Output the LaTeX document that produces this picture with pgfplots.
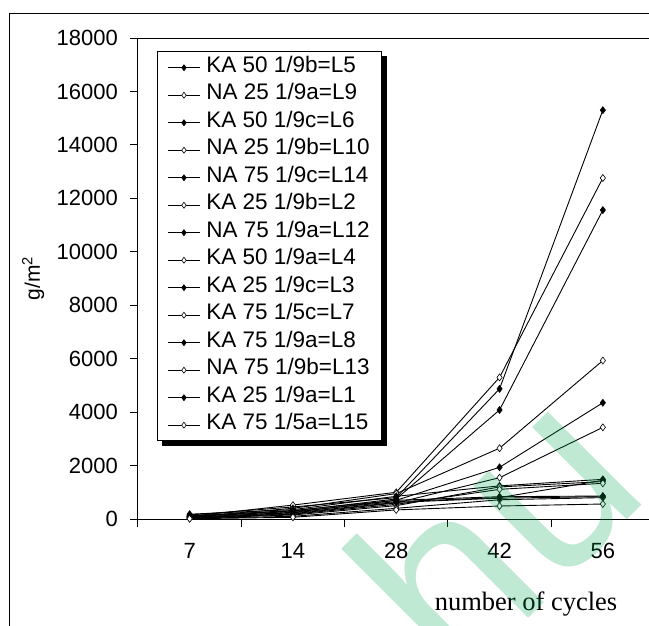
\documentclass[border=0pt]{standalone}
\usepackage{fontspec}
\setmainfont{Liberation Sans}
\newfontfamily\timesfont{Liberation Serif}
\usepackage{pgfplots}
\usepackage{pgfplotstable}
\pgfplotsset{compat=1.18}
\usetikzlibrary{backgrounds}

% values, one column per series
\pgfplotstableread{
x L5 L9 L6 L10 L14 L2 L12 L4 L3 L7 L8 L13 L1 L15
0 150 100 120 80 60 50 180 30 90 40 110 20 70 10
1 450 520 300 400 250 200 350 150 280 180 320 100 230 64
2 800 1000 750 950 700 600 850 500 650 550 700 400 620 340
3 4870 5300 4080 2650 1935 1546 1240 1200 800 1110 835 720 780 486
4 15300 12760 11560 5930 4350 3430 1485 1400 1450 1336 860 800 835 561
}\datatable

\pgfplotsset{
  filled/.style={black, line width=0.9pt, mark=diamond*, mark size=3.5pt,
    mark options={solid, fill=black, line width=0.6pt}},
  open/.style={black, line width=0.9pt, mark=diamond*, mark size=3.5pt,
    mark options={solid, fill=white, line width=0.6pt}},
}

\begin{document}
\begin{tikzpicture}
\useasboundingbox (0,0) rectangle (649pt,625pt);
\clip (0,0) rectangle (649pt,625pt);
\draw[line width=1pt] (9.5pt,-20pt) rectangle (700pt,611.5pt);

\begin{axis}[
  at={(138pt,106pt)}, anchor=south west,
  scale only axis, width=516.5pt, height=481pt,
  xmin=-0.5, xmax=4.5, ymin=0, ymax=18000,
  xtick={0,1,2,3,4}, xticklabels={7,14,28,42,56},
  minor xtick={-0.5,0.5,1.5,2.5,3.5,4.5},
  ytick={0,2000,...,18000},
  scaled y ticks=false,
  /pgf/number format/1000 sep={},
  /pgf/number format/assume math mode=true,
  tick align=outside, tick pos=left,
  major tick length=8pt, minor tick length=8pt,
  major x tick style={draw=none},
  tick style={black, line width=1pt},
  axis line style={line width=1pt},
  ticklabel style={font=\fontsize{22}{26}\selectfont},
  yticklabel style={inner sep=0pt, xshift=-12pt},
  xticklabel style={inner sep=0pt, yshift=-16pt},
  ylabel={g/m\textsuperscript{2}},
  every axis y label/.style={at={(axis description cs:-0.203,0.5)}, rotate=90,
    anchor=center, font=\fontsize{21}{24}\selectfont},
  xlabel={number of cycles},
  every axis x label/.style={at={(axis description cs:0.7512,-0.1906)},
    anchor=base, font=\timesfont\fontsize{26.5}{30}\selectfont},
  legend cell align=left,
  legend image code/.code={\draw[mark repeat=2, mark phase=2, mark size=3pt, #1]
    plot coordinates {(0pt,0pt) (16pt,0pt) (32pt,0pt)};},
  legend style={at={(axis description cs:0.0368,0.972)}, anchor=north west,
    name=leg, draw=black, line width=1pt, fill=white,
    font=\fontsize{22.5}{26}\selectfont,
    inner xsep=10pt, inner ysep=2pt, row sep=0pt, column sep=4pt,
    nodes={inner sep=2pt, text height=16.5pt, text depth=7pt}},
]
\addplot[filled] table[x=x, y=L5] {\datatable};
\addlegendentry{KA 50 1/9b=L5}
\addplot[open] table[x=x, y=L9] {\datatable};
\addlegendentry{NA 25 1/9a=L9}
\addplot[filled] table[x=x, y=L6] {\datatable};
\addlegendentry{KA 50 1/9c=L6}
\addplot[open] table[x=x, y=L10] {\datatable};
\addlegendentry{NA 25 1/9b=L10}
\addplot[filled] table[x=x, y=L14] {\datatable};
\addlegendentry{NA 75 1/9c=L14}
\addplot[open] table[x=x, y=L2] {\datatable};
\addlegendentry{KA 25 1/9b=L2}
\addplot[filled] table[x=x, y=L12] {\datatable};
\addlegendentry{NA 75 1/9a=L12}
\addplot[open] table[x=x, y=L4] {\datatable};
\addlegendentry{KA 50 1/9a=L4}
\addplot[filled] table[x=x, y=L3] {\datatable};
\addlegendentry{KA 25 1/9c=L3}
\addplot[open] table[x=x, y=L7] {\datatable};
\addlegendentry{KA 75 1/5c=L7}
\addplot[filled] table[x=x, y=L8] {\datatable};
\addlegendentry{KA 75 1/9a=L8}
\addplot[open] table[x=x, y=L13] {\datatable};
\addlegendentry{NA 75 1/9b=L13}
\addplot[filled] table[x=x, y=L1] {\datatable};
\addlegendentry{KA 25 1/9a=L1}
\addplot[open] table[x=x, y=L15] {\datatable};
\addlegendentry{KA 75 1/5a=L15}
\end{axis}

% legend shadow
\begin{scope}[on background layer]
\fill[black] ([xshift=4.5pt,yshift=-4.5pt]leg.south west)
  rectangle ([xshift=4.5pt,yshift=-4.5pt]leg.north east);
\end{scope}

% watermark
\node[rotate=45, anchor=base west, inner sep=0pt,
  text={rgb,255:red,0;green,166;blue,81}, text opacity=0.25,
  font=\fontsize{250}{250}\selectfont] at (457.5pt,-64.5pt) {hu};
\end{tikzpicture}
\end{document}
